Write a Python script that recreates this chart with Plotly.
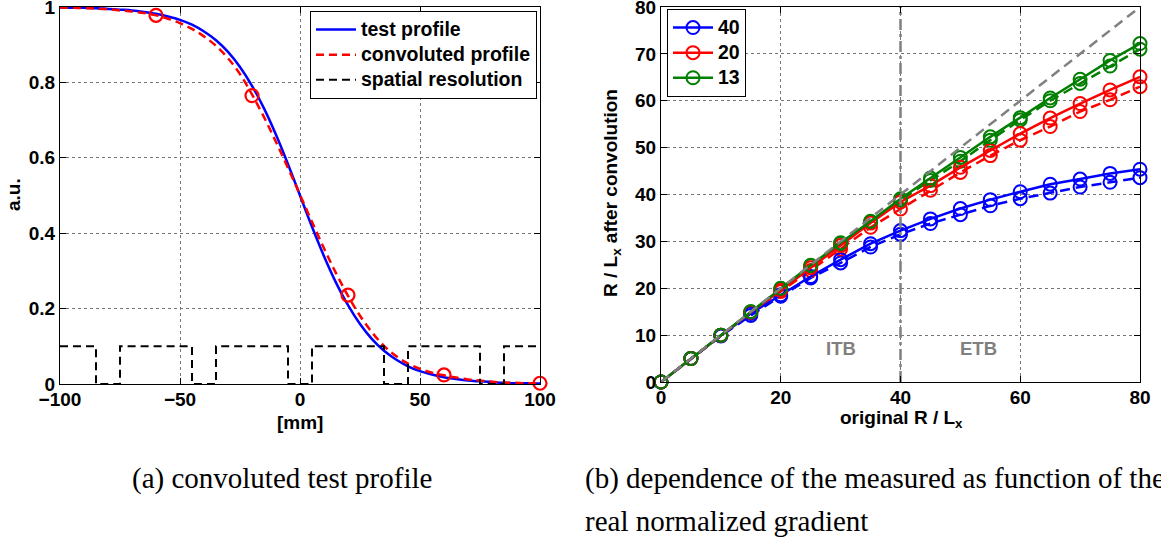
import plotly.graph_objects as go

# ---------------- data: left panel ----------------
x_mm = list(range(-100, 101, 5))
test_profile = [0.999, 0.998, 0.998, 0.997, 0.995, 0.993, 0.991, 0.987, 0.982, 0.975,
                0.966, 0.953, 0.935, 0.912, 0.881, 0.841, 0.791, 0.731, 0.661, 0.583,
                0.500, 0.417, 0.339, 0.269, 0.209, 0.159, 0.119, 0.088, 0.065, 0.047,
                0.034, 0.025, 0.018, 0.013, 0.009, 0.007, 0.005, 0.003, 0.002, 0.002, 0.001]
convoluted_profile = [0.999, 0.998, 0.997, 0.996, 0.994, 0.991, 0.988, 0.984, 0.978, 0.969,
                      0.957, 0.942, 0.922, 0.897, 0.864, 0.822, 0.768, 0.708, 0.642, 0.573,
                      0.502, 0.430, 0.360, 0.294, 0.234, 0.181, 0.137, 0.101, 0.074, 0.054,
                      0.040, 0.030, 0.023, 0.017, 0.012, 0.009, 0.006, 0.004, 0.003, 0.002, 0.002]
sample_x = [-60, -20, 20, 60, 100]
sample_y = [0.978, 0.765, 0.236, 0.024, 0.002]
res_boxes = [(-100, -85), (-75, -45), (-35, -5), (5, 35), (45, 75), (85, 100)]
res_height = 0.1

# ---------------- data: right panel ----------------
orig_grad = list(range(0, 81, 5))
res40_solid = [0, 5.0, 9.9, 14.6, 18.6, 22.5, 26.1, 29.5, 32.3, 34.8, 37.0, 38.9, 40.6, 42.2, 43.3, 44.5, 45.4]
res40_dash = [0, 5.0, 9.8, 14.2, 18.3, 22.2, 25.4, 28.8, 31.5, 33.8, 35.7, 37.6, 39.1, 40.3, 41.6, 42.6, 43.6]
res20_solid = [0, 5.0, 10.0, 14.9, 19.6, 24.4, 29.1, 33.9, 38.4, 41.9, 45.8, 49.4, 53.0, 56.3, 59.4, 62.3, 65.1]
res20_dash = [0, 5.0, 10.0, 14.8, 19.3, 23.8, 28.4, 33.0, 36.9, 40.9, 44.7, 48.3, 51.6, 54.5, 57.7, 60.2, 63.0]
res13_solid = [0, 5.0, 10.0, 15.0, 20.0, 24.9, 29.7, 34.3, 39.1, 43.5, 47.9, 52.3, 56.4, 60.6, 64.6, 68.6, 72.2]
res13_dash = [0, 5.0, 10.0, 15.0, 19.9, 24.8, 29.5, 34.1, 38.8, 43.0, 47.1, 51.6, 55.9, 60.0, 63.7, 67.4, 71.0]
identity_x = [0, 80]
boundary_x = 40
series_names = ["40", "20", "13"]
series_colors = ["#0000ff", "#ff0000", "#007f00"]

SANS = "Liberation Sans, Arial, Helvetica, sans-serif"
SERIF = "Liberation Serif, DejaVu Serif, serif"
DASH = "8px,5px"

def big(s):
    return "<span style='font-size:19.5px'>" + s + "</span>"

fig = go.Figure()

# ---- left panel traces ----
fig.add_trace(go.Scatter(x=x_mm, y=test_profile, mode="lines", name=big("test profile"),
                         line=dict(color="#0000ff", width=2.5, shape="spline"),
                         xaxis="x", yaxis="y", legend="legend"))
fig.add_trace(go.Scatter(x=x_mm, y=convoluted_profile, mode="lines", name=big("convoluted profile"),
                         line=dict(color="#ff0000", width=2.5, dash=DASH, shape="spline"),
                         xaxis="x", yaxis="y", legend="legend"))
rx, ry = [], []
for i, (a, b) in enumerate(res_boxes):
    if i > 0:
        rx += [a, a]
        ry += [0, res_height]
    rx += [b]
    ry += [res_height]
    if i < len(res_boxes) - 1:
        rx += [b]
        ry += [0]
rx = [res_boxes[0][0]] + rx
ry = [res_height] + ry
fig.add_trace(go.Scatter(x=rx, y=ry, mode="lines", name=big("spatial resolution"),
                         line=dict(color="#000000", width=2, dash=DASH),
                         xaxis="x", yaxis="y", legend="legend"))
fig.add_trace(go.Scatter(x=sample_x, y=sample_y, mode="markers", showlegend=False,
                         marker=dict(symbol="circle-open", size=13, color="#ff0000",
                                     line=dict(width=2.2, color="#ff0000")),
                         cliponaxis=False, xaxis="x", yaxis="y"))

# ---- right panel traces ----
solids = [res40_solid, res20_solid, res13_solid]
dashes = [res40_dash, res20_dash, res13_dash]
for name, col, ys, yd in zip(series_names, series_colors, solids, dashes):
    fig.add_trace(go.Scatter(x=orig_grad, y=yd, mode="lines+markers", showlegend=False,
                             line=dict(color=col, width=2.5, dash="10px,6px"),
                             marker=dict(symbol="circle-open", size=13, color=col,
                                         line=dict(width=2, color=col)),
                             cliponaxis=False, xaxis="x2", yaxis="y2"))
for name, col, ys, yd in zip(series_names, series_colors, solids, dashes):
    fig.add_trace(go.Scatter(x=orig_grad, y=ys, mode="lines+markers", name=big(name),
                             line=dict(color=col, width=2.5),
                             marker=dict(symbol="circle-open", size=13, color=col,
                                         line=dict(width=2, color=col)),
                             cliponaxis=False, xaxis="x2", yaxis="y2", legend="legend2"))
fig.add_trace(go.Scatter(x=identity_x, y=identity_x, mode="lines", showlegend=False,
                         line=dict(color="#808080", width=2.5, dash="10px,6px"),
                         xaxis="x2", yaxis="y2"))
fig.add_trace(go.Scatter(x=[boundary_x, boundary_x], y=[0, 80], mode="lines", showlegend=False,
                         line=dict(color="#808080", width=2.5, dash="11px,4px,3px,4px"),
                         xaxis="x2", yaxis="y2"))

axis_common = dict(showline=True, linecolor="black", linewidth=1, mirror="ticks",
                   ticks="inside", ticklen=6, tickwidth=1, tickcolor="black",
                   showgrid=True, gridcolor="#777777", gridwidth=1, griddash="dot",
                   zeroline=False, automargin=False, ticklabeloverflow="allow",
                   tickfont=dict(family=SANS, size=19, color="black", weight="bold"))

W, H = 1161, 541
def px(x):
    return x / W
def py(y):
    return 1 - y / H

fig.update_layout(
    width=W, height=H, margin=dict(l=0, r=0, t=0, b=0, autoexpand=False),
    paper_bgcolor="white", plot_bgcolor="white",
    showlegend=True,
    xaxis=dict(domain=[px(60), px(540)], range=[-100, 100], tickvals=[-100, -50, 0, 50, 100],
               ticktext=["\u2212100", "\u221250", "0", "50", "100"], anchor="y",
               ticklabelstandoff=-2, **axis_common),
    yaxis=dict(domain=[py(384), py(7)], range=[0, 1], tickvals=[0, 0.2, 0.4, 0.6, 0.8, 1],
               ticktext=["0", "0.2", "0.4", "0.6", "0.8", "1"], anchor="x",
               ticklabelstandoff=0, **axis_common),
    xaxis2=dict(domain=[px(661), px(1140)], range=[0, 80], tickvals=[0, 20, 40, 60, 80],
                anchor="y2", ticklabelstandoff=-2, **axis_common),
    yaxis2=dict(domain=[py(382), py(7)], range=[0, 80], tickvals=list(range(0, 81, 10)),
                anchor="x2", ticklabelstandoff=0, **axis_common),
    legend=dict(x=px(310), y=py(11), xanchor="left", yanchor="top",
                bgcolor="white", bordercolor="black", borderwidth=1,
                font=dict(family=SANS, size=17, color="black", weight="bold"),
                tracegroupgap=0, itemwidth=40),
    legend2=dict(x=px(667), y=py(9), xanchor="left", yanchor="top",
                 bgcolor="white", bordercolor="black", borderwidth=1,
                 font=dict(family=SANS, size=17, color="black", weight="bold"),
                 tracegroupgap=0, itemwidth=40),
)

title_font = dict(family=SANS, size=19, color="black", weight="bold")
gray_font = dict(family=SANS, size=18.5, color="#808080", weight="bold")
cap_font = dict(family=SERIF, size=29, color="black")
annos = [
    dict(text="a.u.", x=px(13), y=py(195), textangle=-90, font=title_font),
    dict(text="[mm]", x=px(300), y=py(422), font=title_font),
    dict(text="R / L<sub>x</sub> after convolution", x=px(612), y=py(193), textangle=-90, font=title_font),
    dict(text="original R / L<sub>x</sub>", x=px(901), y=py(419), font=title_font),
    dict(text="ITB", x=px(841), y=py(348), font=gray_font),
    dict(text="ETB", x=px(978), y=py(348), font=gray_font),
    dict(text="(a) convoluted test profile", x=px(282), y=py(478), font=cap_font),
    dict(text="(b) dependence of the measured as function of the", x=px(583), y=py(478), xanchor="left",
         font=cap_font),
    dict(text="real normalized gradient", x=px(583), y=py(521), xanchor="left", font=cap_font),
]
for a in annos:
    a.setdefault("xanchor", "center")
    fig.add_annotation(xref="paper", yref="paper", showarrow=False, yanchor="middle", **a)

fig.write_html("out.html")
